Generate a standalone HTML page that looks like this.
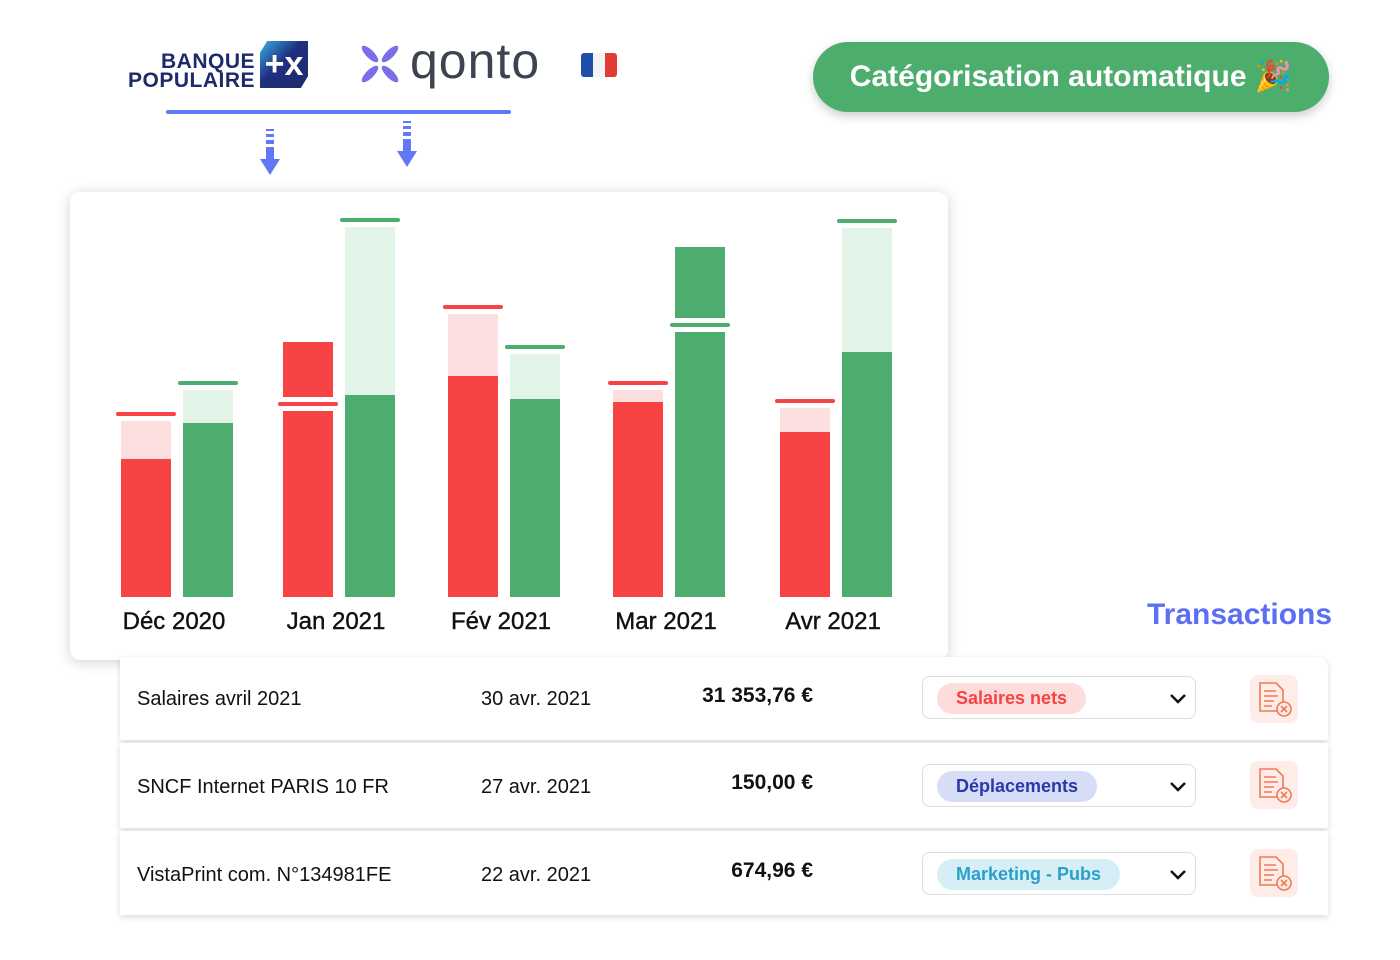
<!DOCTYPE html>
<html><head><meta charset="utf-8">
<style>
body{margin:0;width:1400px;height:960px;background:#fff;position:relative;overflow:hidden;font-family:"Liberation Sans",Arial,sans-serif;}
.abs{position:absolute;}
.card{position:absolute;left:70px;top:192px;width:878px;height:468px;background:#fff;border-radius:10px;box-shadow:0 2px 14px rgba(0,0,0,0.18);}
.row{position:absolute;left:120px;width:1208px;background:#fff;box-shadow:0 2px 6px rgba(0,0,0,0.15);}
.cell{position:absolute;font-size:20px;color:#111;}
.sel{position:absolute;left:802px;width:272px;height:41px;border:1px solid #ddd;border-radius:8px;background:#fff;}
.pill{position:absolute;left:14px;top:6px;height:31px;line-height:31px;padding:0 19px;border-radius:16px;font-weight:bold;font-size:18px;}
.chev{position:absolute;left:244px;top:10px;}
.ico{position:absolute;left:1130px;width:48px;height:48px;border-radius:8px;background:#fdece7;}
</style></head><body>

<!-- Logos -->
<div class="abs" style="left:120px;top:52px;width:135px;text-align:right;color:#1d2a6b;font-weight:bold;font-size:21px;line-height:19px;letter-spacing:0.5px;">BANQUE<br>POPULAIRE</div>
<div class="abs" style="left:260px;top:41px;width:48px;height:47px;background:linear-gradient(135deg,#3ab0e6,#1f2f80 45%,#1d2a6b);clip-path:polygon(15% 0,100% 0,100% 75%,85% 100%,0 100%,0 25%);color:#fff;font-weight:bold;font-size:34px;line-height:46px;text-align:center;">+x</div>
<svg class="abs" style="left:360px;top:44px" width="40" height="40" viewBox="0 0 40 40">
<g fill="#7b6ee8"><ellipse cx="10" cy="10" rx="4" ry="11" transform="rotate(-45 10 10)"/><ellipse cx="30" cy="10" rx="4" ry="11" transform="rotate(45 30 10)"/><ellipse cx="10" cy="30" rx="4" ry="11" transform="rotate(45 10 30)"/><ellipse cx="30" cy="30" rx="4" ry="11" transform="rotate(-45 30 30)"/></g></svg>
<div class="abs" style="left:410px;top:32px;font-size:50px;color:#3b4450;letter-spacing:1px;">qonto</div>
<div class="abs" style="left:581px;top:53px;width:36px;height:24px;display:flex;border-radius:3px;overflow:hidden;"><div style="flex:1;background:#1f4fa8"></div><div style="flex:1;background:#f4f4f4"></div><div style="flex:1;background:#e53b35"></div></div>
<div class="abs" style="left:166px;top:110px;width:345px;height:4px;border-radius:2px;background:#6078f5;"></div>
<svg class="abs" style="left:259px;top:128px" width="22" height="48"><g fill="#6078f5"><rect x="7" y="1" width="8" height="2"/><rect x="7" y="6" width="8" height="3"/><rect x="7" y="12" width="8" height="4"/><rect x="7" y="19" width="8" height="12"/><polygon points="1,31 21,31 11,47"/></g></svg>
<svg class="abs" style="left:396px;top:120px" width="22" height="48"><g fill="#6078f5"><rect x="7" y="1" width="8" height="2"/><rect x="7" y="6" width="8" height="3"/><rect x="7" y="12" width="8" height="4"/><rect x="7" y="19" width="8" height="12"/><polygon points="1,31 21,31 11,47"/></g></svg>

<!-- Button -->
<div class="abs" style="left:813px;top:42px;width:516px;height:70px;border-radius:35px;background:#4cad6c;box-shadow:0 4px 10px rgba(0,0,0,0.2);color:#fff;font-weight:bold;font-size:30px;line-height:70px;text-align:center;">Catégorisation automatique 🎉</div>

<!-- Chart -->
<div class="card"></div>
<svg class="abs" id="chart" style="left:0;top:0" width="960" height="680"></svg>
<script>
const months=["Déc 2020","Jan 2021","Fév 2021","Mar 2021","Avr 2021"];
const expenseActual=[13.8,25.5,22.1,19.5,16.5];
const expenseForecast=[18.3,19.3,29.0,21.4,19.6];
const incomeActual=[17.4,20.2,19.8,35.0,24.5];
const incomeForecast=[21.4,37.7,25.0,27.2,37.6];
const groupX=[121,283,448,613,780];
const base=597,scale=10,bw=50;
const y=v=>base-v*scale;
const NS="http://www.w3.org/2000/svg";
const svg=document.getElementById('chart');
function rect(x,yy,w,h,fill,name,rx){const r=document.createElementNS(NS,'rect');r.setAttribute('x',x);r.setAttribute('y',yy);r.setAttribute('width',w);r.setAttribute('height',Math.max(0,h));r.setAttribute('fill',fill);if(rx)r.setAttribute('rx',rx);


svg.appendChild(r);return r;}
function bar(x,a,f,dark,light,kind,i){
  const ya=y(a),yf=y(f);
  if(f>a){rect(x,yf+7,bw,ya-yf-7,light,kind+'-forecast-bar-'+i);}
  rect(x,ya,bw,base-ya,dark,kind+'-actual-bar-'+i);
  if(f<a){rect(x-5,yf-7,bw+10,14,'#fff',kind+'-marker-gap-'+i);}
  rect(x-5,yf-2,bw+10,4,dark,kind+'-forecast-marker-'+i,2);
}
months.forEach((m,i)=>{
  const gx=groupX[i];
  bar(gx,expenseActual[i],expenseForecast[i],'#f74343','#fddfe0','expense',i);
  bar(gx+62,incomeActual[i],incomeForecast[i],'#4cad6f','#e2f4e8','income',i);
  const t=document.createElementNS(NS,'text');t.setAttribute('x',gx+53);t.setAttribute('y',629);t.setAttribute('text-anchor','middle');t.setAttribute('font-size','24');t.setAttribute('font-family','Liberation Sans, sans-serif');t.setAttribute('fill','#111');t.setAttribute('stroke','#111');t.setAttribute('stroke-width','0.4');t.textContent=m;
  
  
  svg.appendChild(t);
});
</script>

<!-- Transactions -->
<div class="abs" style="left:1147px;top:598px;font-size:30px;font-weight:bold;color:#5b6ef5;">Transactions</div>

<div class="row" style="top:657px;height:83px;border-top-right-radius:10px;">
<div class="cell" style="left:17px;top:31px;">Salaires avril 2021</div>
<div class="cell" style="left:361px;top:31px;">30 avr. 2021</div>
<div class="cell" style="right:515px;top:27px;font-weight:bold;font-size:21px;">31 353,76 €</div>
<div class="sel" style="top:19px;"><div class="pill" style="background:#fddcdc;color:#f74343;">Salaires nets</div><svg class="chev" width="22" height="22"><path d="M4 8 L11 15 L18 8" stroke="#111" stroke-width="2.5" fill="none"/></svg></div>
<div class="ico" style="top:18px;"><svg width="48" height="48"><g stroke="#f07a55" stroke-width="1.6" fill="none"><path d="M10 8 H26 L33 15 V36 H10 Z"/><path d="M14 16h12M14 21h14M14 26h10M14 31h8"/><circle cx="34" cy="34" r="7" fill="#fdece7"/><path d="M31 31l6 6M37 31l-6 6"/></g></svg></div>
</div>

<div class="row" style="top:743px;height:85px;">
<div class="cell" style="left:17px;top:33px;">SNCF Internet PARIS 10 FR</div>
<div class="cell" style="left:361px;top:33px;">27 avr. 2021</div>
<div class="cell" style="right:515px;top:28px;font-weight:bold;font-size:21px;">150,00 €</div>
<div class="sel" style="top:21px;"><div class="pill" style="background:#d7dcf7;color:#2839a8;">Déplacements</div><svg class="chev" width="22" height="22"><path d="M4 8 L11 15 L18 8" stroke="#111" stroke-width="2.5" fill="none"/></svg></div>
<div class="ico" style="top:18px;"><svg width="48" height="48"><g stroke="#f07a55" stroke-width="1.6" fill="none"><path d="M10 8 H26 L33 15 V36 H10 Z"/><path d="M14 16h12M14 21h14M14 26h10M14 31h8"/><circle cx="34" cy="34" r="7" fill="#fdece7"/><path d="M31 31l6 6M37 31l-6 6"/></g></svg></div>
</div>

<div class="row" style="top:831px;height:84px;">
<div class="cell" style="left:17px;top:33px;">VistaPrint com. N°134981FE</div>
<div class="cell" style="left:361px;top:33px;">22 avr. 2021</div>
<div class="cell" style="right:515px;top:28px;font-weight:bold;font-size:21px;">674,96 €</div>
<div class="sel" style="top:21px;"><div class="pill" style="background:#d6eff6;color:#2a9fca;">Marketing - Pubs</div><svg class="chev" width="22" height="22"><path d="M4 8 L11 15 L18 8" stroke="#111" stroke-width="2.5" fill="none"/></svg></div>
<div class="ico" style="top:18px;"><svg width="48" height="48"><g stroke="#f07a55" stroke-width="1.6" fill="none"><path d="M10 8 H26 L33 15 V36 H10 Z"/><path d="M14 16h12M14 21h14M14 26h10M14 31h8"/><circle cx="34" cy="34" r="7" fill="#fdece7"/><path d="M31 31l6 6M37 31l-6 6"/></g></svg></div>
</div>
</body></html>
